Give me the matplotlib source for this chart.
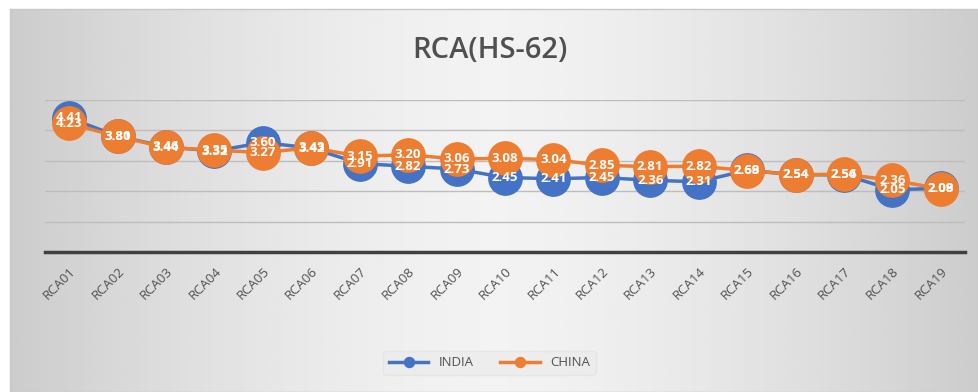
import numpy as np
import matplotlib.pyplot as plt

categories = ["RCA%02d" % i for i in range(1, 20)]
india = [4.41, 3.81, 3.46, 3.32, 3.60, 3.42, 2.91, 2.82, 2.73, 2.45,
         2.41, 2.45, 2.36, 2.31, 2.69, 2.54, 2.54, 2.05, 2.09]
china = [4.23, 3.80, 3.44, 3.35, 3.27, 3.43, 3.15, 3.20, 3.06, 3.08,
         3.04, 2.85, 2.81, 2.82, 2.68, 2.54, 2.56, 2.36, 2.08]

blue = "#4472C4"
orange = "#ED7D31"
font = ["Open Sans", "DejaVu Sans"]

fig = plt.figure(figsize=(9.79, 3.92), dpi=100)

# grey-to-white-to-grey backdrop behind the chart
bg = fig.add_axes([10 / 979, 0, 969 / 979, 383 / 392], zorder=-10)
xs = np.linspace(-1, 1, 400)
shade = 0.95 - 0.15 * np.abs(xs) ** 1.5
bg.imshow(np.tile(shade, (50, 1)), cmap="gray", vmin=0, vmax=1,
          aspect="auto", extent=[0, 1, 0, 1])
bg.set_xlim(0, 1)
bg.set_ylim(0, 1)
bg.set_xticks([])
bg.set_yticks([])
for s in bg.spines.values():
    s.set_color("#c8c8c8")
    s.set_linewidth(1)

ax = fig.add_axes([45 / 979, 140 / 392, 920 / 979, 152 / 392])
ax.patch.set_alpha(0)
x = np.arange(len(categories))

ax.plot(x, india, color=blue, lw=2.5, marker="o", ms=24, label="INDIA", zorder=3)
ax.plot(x, china, color=orange, lw=2.5, marker="o", ms=24, label="CHINA", zorder=4)

for xi, v in zip(x, india):
    ax.text(xi, v, "%.2f" % v, ha="center", va="center", color="white",
            fontsize=9.5, fontweight="bold", family=font, zorder=5)
for xi, v in zip(x, china):
    ax.text(xi, v, "%.2f" % v, ha="center", va="center", color="white",
            fontsize=9.5, fontweight="bold", family=font, zorder=6)

ax.set_xlim(-0.5, len(categories) - 0.5)
ax.set_ylim(0, 5)
ax.set_yticks([1, 2, 3, 4, 5])
ax.yaxis.grid(True, color="#bdbdbd", lw=1)
ax.set_axisbelow(True)
ax.tick_params(axis="y", left=False, labelleft=False)
ax.tick_params(axis="x", length=0, pad=9)
ax.set_xticks(x)
ax.set_xticklabels(categories, rotation=45, ha="right", va="top",
                   rotation_mode="anchor", fontsize=9.5, color="#505050",
                   family=font)
for side in ["top", "right", "left"]:
    ax.spines[side].set_visible(False)
ax.spines["bottom"].set_color("#404040")
ax.spines["bottom"].set_linewidth(2.5)

fig.text(0.5, 1 - 50 / 392, "RCA(HS-62)", ha="center", va="center",
         fontsize=21, fontweight="semibold", color="#505050", family=font)

h, l = ax.get_legend_handles_labels()
leg = fig.legend(h, l, loc="center", bbox_to_anchor=(0.5, 1 - 363 / 392),
                 ncol=2, frameon=True, markerscale=0.3, handlelength=3,
                 prop={"family": font, "size": 9.5})
leg.get_frame().set_facecolor("#ececec")
leg.get_frame().set_edgecolor("#e4e4e4")
for t in leg.get_texts():
    t.set_color("#505050")

fig.savefig("out.png", dpi=100)
